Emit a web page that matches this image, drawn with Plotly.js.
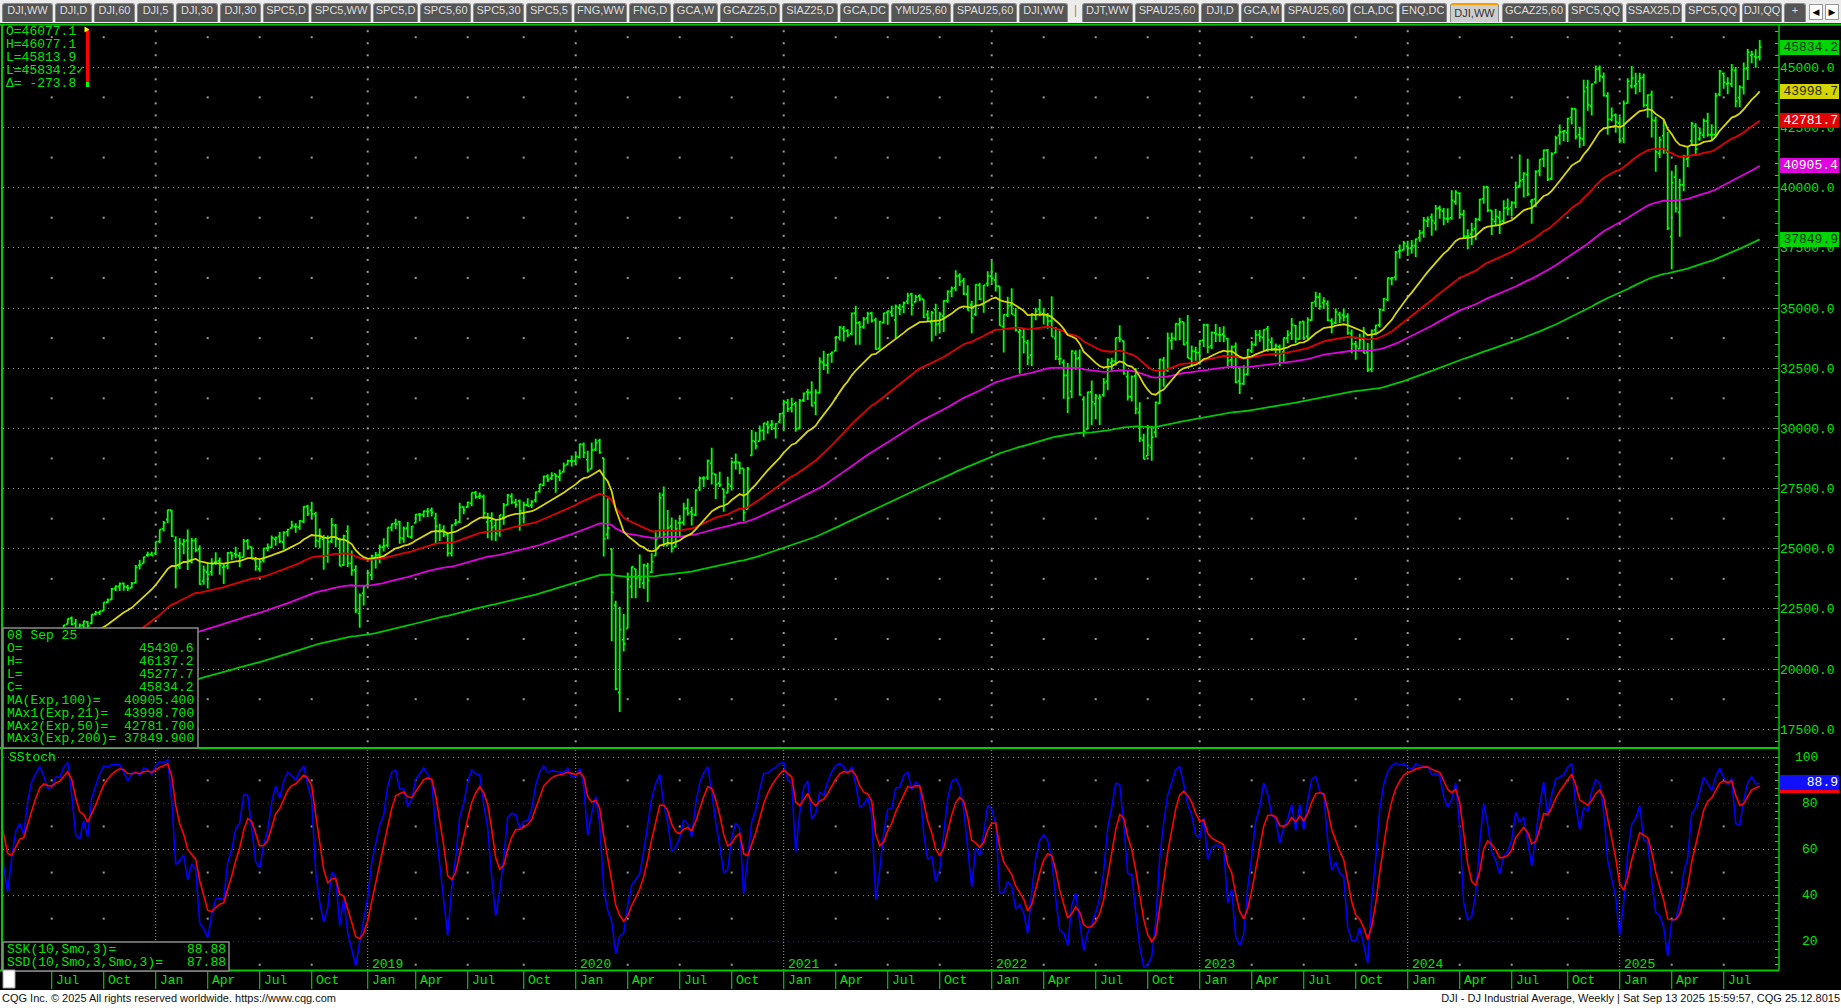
<!DOCTYPE html>
<html>
<head>
<meta charset="utf-8">
<script src="https://cdn.plot.ly/plotly-3.0.1.min.js"></script>
<style>
html,body{margin:0;padding:0;width:1841px;height:1008px;overflow:hidden;background:#000;}
#chart{position:absolute;left:0;top:0;width:1841px;height:1008px;}
#tabbar{position:absolute;left:0;top:0;width:1841px;height:23px;background:#ececec;z-index:5;}
.tab{position:absolute;top:3px;height:19px;line-height:18px;background:#555;color:#dedede;border:1px solid #8a8a8a;border-bottom:none;border-radius:3px 3px 0 0;font:11px "Liberation Sans Narrow","Liberation Sans",Arial,sans-serif;text-align:center;box-sizing:border-box;white-space:nowrap;}
.tab.sel{background:#cdcdcd;color:#333;border-top:2px solid #ff9c00;line-height:16px;}
.sep{position:absolute;top:3px;height:19px;line-height:18px;color:#c08040;font:12px "Liberation Sans",Arial,sans-serif;}
.arr{position:absolute;top:4px;width:14px;height:16px;background:#fff;border:1px solid #999;box-sizing:border-box;font:9px "DejaVu Sans",sans-serif;line-height:14px;text-align:center;color:#000;}
#footer{position:absolute;left:0;top:990px;width:1841px;height:18px;background:#fff;z-index:5;font:11px "Liberation Sans",Arial,sans-serif;color:#111;}
#footer .l{position:absolute;left:2px;top:2px;}
#footer .r{position:absolute;right:1px;top:2px;}
</style>
</head>
<body>
<div id="chart"></div>
<div id="tabbar"></div>
<div id="footer"><span class="l">CQG Inc. © 2025 All rights reserved worldwide. https://www.cqg.com</span><span class="r">DJI - DJ Industrial Average, Weekly | Sat Sep 13 2025 15:59:57, CQG 25.12.8015</span></div>
<script>
// ---------------- DATA (weekly bars, Monday dates, [open, high, low, close]) ----------------
const firstWeek = '2017-01-02';
const bars2017 = [
[19881,19999,19775,19964],[19931,19999,19677,19886],[19886,19949,19732,19827],[19794,20125,19774,20094],[20028,20125,19831,20071],
[20025,20298,19976,20270],[20299,20639,20271,20624],[20625,20851,20586,20822],[20800,21169,20757,21005],
[20987,21002,20777,20902],[20901,21000,20788,20914],[20922,20953,20412,20596],[20540,20756,20413,20663],
[20654,20888,20551,20656],[20656,20703,20453,20453],[20479,20616,20379,20548],[20779,21070,20765,20940],
[20962,21033,20850,21006],[21013,21013,20831,20896],[20911,21000,20554,20804],[20817,21112,20782,21080],[21080,21225,20973,21206],
[21202,21305,21112,21271],[21264,21392,21188,21384],[21405,21536,21293,21394],[21395,21535,21197,21349],
[21392,21480,21279,21414],[21418,21681,21262,21637],[21632,21681,21534,21580],[21574,21830,21521,21830],[21865,22092,21865,22092],
[22119,22180,21810,21858],[21896,22086,21600,21674],[21694,21891,21600,21814],[21822,22013,21701,21988],
[21958,22000,21709,21798],[21905,22275,21868,22268],[22288,22420,22245,22350],[22350,22419,22247,22405],
[22423,22777,22419,22774],[22778,22935,22750,22871],[22891,23368,22870,23329],[23348,23486,23230,23434],[23439,23602,23242,23539],
[23557,23602,23250,23422],[23408,23500,23242,23358],[23371,23618,23360,23558],[23578,24328,23566,24231],
[24305,24534,24140,24329],[24393,24677,24393,24652],[24739,24876,24663,24754],[24770,24872,24708,24719]
];
const bars2018 = [
[24809,25299,24741,25296],[25308,25804,25237,25803],[25829,26153,25711,26072],[26214,26617,26058,26617],[26598,26609,25490,25521],
[25338,25520,23360,24190],[24257,25432,24160,25219],[25191,25411,24774,25310],[25347,25800,24117,24538],
[24461,25449,24385,25336],[25349,25449,24857,24946],[24969,25150,23509,23533],[23658,24307,23509,24103],
[24034,24450,23344,23933],[24041,24608,23873,24360],[24438,24858,24339,24463],[24494,24636,23924,24311],[24222,24353,23531,24263],
[24301,24861,24147,24831],[24843,24860,24524,24715],[24788,25086,24608,24753],[24702,24868,24232,24635],
[24650,25402,24650,25317],[25322,25402,24953,25090],[25064,25089,24560,24581],[24537,24653,24084,24271],
[24161,24539,24043,24456],[24515,25044,24428,25019],[25025,25215,24887,25058],[25060,25552,25018,25451],[25403,25511,25124,25463],
[25511,25692,25233,25313],[25280,25724,24965,25669],[25697,25834,25513,25790],[25853,26167,25838,25965],
[25916,26057,25660,25917],[25887,26197,25787,26155],[26131,26769,26073,26744],[26757,26828,26365,26458],
[26598,26951,26263,26447],[26452,26534,25055,25340],[25309,25841,25017,25444],[25389,25574,24123,24688],[24699,25545,24417,25271],
[25312,26277,25238,25989],[25960,26031,25066,25413],[25395,25459,24268,24286],[24333,25580,24286,25538],
[25718,25980,24242,24389],[24391,24925,23881,24101],[24121,24314,22324,22445],[22317,23139,21713,23062],[23153,23464,22639,23433]
];
const bars2019 = [
[23474,24124,23344,23996],[23910,24751,23700,24706],[24630,24863,24179,24737],[24748,25180,24394,25064],
[25062,25439,24883,25106],[25146,25883,25052,25883],[25880,26052,25726,26031],[26052,26241,25819,26026],
[26122,26156,25208,25450],[25432,25920,25252,25849],[25858,26109,25475,25502],[25478,25949,25410,25929],
[26075,26444,26064,26425],[26429,26486,26143,26412],[26420,26592,26302,26559],[26552,26695,26316,26543],[26607,26709,26340,26505],
[26258,26496,25222,25942],[25733,26036,25325,25764],[25780,25979,25490,25586],[25611,25611,24680,24815],
[24810,26022,24680,25984],[26047,26238,25952,26090],[26113,26907,26065,26719],[26727,26761,26437,26600],
[26734,26966,26712,26922],[26886,27333,26764,27332],[27326,27398,27075,27154],[27171,27336,27068,27192],[27168,27252,26249,26485],
[26118,26500,25440,26287],[26154,26520,25340,25886],[25962,26230,25323,25629],[25742,26405,25495,26403],
[26313,26900,26000,26797],[26821,27277,26821,27219],[27179,27306,26851,26935],[26922,27079,26704,26820],[26990,27046,25743,26573],
[26478,26957,26047,26817],[26818,27100,26753,26770],[26810,27011,26695,26958],[27022,27380,26925,27347],
[27384,27691,27328,27681],[27642,28036,27601,28005],[28019,28090,27770,27876],[27934,28174,27860,28051],
[28109,28109,27325,28015],[27980,28290,27799,28135],[28191,28582,28163,28455],[28491,28701,28491,28645],[28653,28873,28419,28635]
];
const bars2020 = [
[28639,28956,28482,28823],[28798,29374,28750,29348],[29332,29409,28765,28990],[28700,29072,28169,28256],
[28319,29409,28319,29102],[29123,29568,29064,29398],[29490,29568,28942,28992],[28771,28771,24681,25409],
[25591,27102,25391,25865],[24992,24992,21154,23186],[22653,22837,19122,19174],[19028,22595,18214,21637],[21227,22293,20736,21053],
[21693,24009,21693,23719],[23433,24264,22941,24242],[24160,24160,22942,23775],[23857,24764,23361,23724],
[23571,24380,23340,24331],[24281,24423,22790,23685],[24030,24815,23991,24465],[24710,25759,24710,25383],
[25475,27337,25475,27111],[27232,27581,25082,25606],[25128,26611,25128,25871],[25942,26302,24843,25016],[25077,26205,25061,25827],
[26073,26390,25523,26075],[26094,26915,25961,26672],[26690,27088,26376,26470],[26533,26742,25964,26428],
[26407,27465,26347,27433],[27538,28000,27400,27931],[27932,28015,27568,27930],[27965,28703,27856,28654],[28544,29199,27664,28133],
[28100,28115,27062,27666],[27729,28195,27561,27657],[27484,27484,26537,27174],[27320,27990,27320,27683],
[27605,28675,27420,28587],[28595,28958,28296,28606],[28586,28609,28097,28336],[28335,28335,26143,26502],
[26636,28393,26636,28323],[28879,29933,28868,29480],[29450,29858,29128,29263],[29467,30117,29467,29910],[29918,30219,29502,30218],
[30179,30319,29776,30046],[30130,30343,29926,30179],[30011,30217,29577,30200],[30283,30637,30211,30606]
];
const bars2021 = [
[30628,31193,29881,31098],[31070,31223,30683,30814],[30852,31272,30660,30997],[31020,31112,29856,29983],
[30005,31223,29977,31148],[31175,31495,31098,31458],[31515,31644,31175,31494],[31494,31963,30905,30932],
[31065,31628,30548,31496],[31476,32960,31460,32779],[32738,33227,32430,32628],[32624,33098,32269,33072],[33096,33189,32728,33153],
[33223,33830,33200,33801],[33768,34256,33647,34200],[34140,34256,33611,34043],[34063,34117,33786,33875],
[33940,34811,33870,34778],[34782,35091,33474,34382],[34388,34453,33474,34208],[34229,34631,34138,34529],[34584,34849,34346,34756],
[34786,34849,34399,34480],[34511,34597,33271,33290],[33318,34466,33271,34434],[34395,34800,34360,34786],
[34817,34893,34308,34870],[34826,35092,34636,34688],[34509,35144,33741,35062],[35028,35171,34705,34935],
[35057,35266,34782,35209],[35279,35632,35160,35515],[35575,35631,34690,35120],[35253,35552,35226,35455],[35499,35576,35278,35369],
[35364,35364,34585,34608],[34737,34907,34427,34584],[34400,34886,33613,34798],[34932,35176,33843,34326],
[34342,34849,33937,34746],[34664,35319,34002,35295],[35295,35741,35223,35677],[35690,35892,35443,35820],
[35834,36565,35699,36328],[36340,36443,35916,36100],[36124,36256,35543,35602],[35580,35946,34899,34899],[35135,35306,33952,34580],
[34748,35985,34670,35971],[35950,36048,35332,35365],[35146,35961,34800,35951],[36018,36527,35893,36338]
];
const bars2022 = [
[36321,36952,36048,36231],[36173,36471,35689,35912],[35907,35907,34265,34265],[34231,34731,33150,34725],[34716,35467,34631,35089],
[35119,35825,34738,34738],[34692,34997,34029,34079],[34004,34137,32273,34059],[33793,34154,33113,33614],
[33566,33677,32633,32944],[33046,34794,32578,34755],[34709,35016,34496,34861],[34950,35372,34655,34818],
[34751,35012,34317,34721],[34655,34791,34140,34451],[34466,35492,33806,33811],[33736,34209,32839,32977],
[32879,34118,32646,32899],[32743,32860,31232,32197],[32205,32720,30636,31262],[31537,33242,31256,33213],[33128,33250,32434,32900],
[32923,33275,31352,31393],[31209,31333,29653,29888],[29972,31525,29970,31500],[31513,31992,30143,31097],
[31022,31437,30376,31338],[31246,31420,30144,31288],[31394,32094,31319,31899],[31949,32910,31584,32845],
[32713,32936,32396,32803],[32783,33780,32617,33761],[33773,34281,33575,33707],[33637,33637,32231,32283],[32154,32408,31160,31318],
[31318,32198,31114,32152],[32185,32504,30585,30822],[30664,31088,29439,29590],[29512,29773,28715,28726],
[28855,30145,28855,29297],[29213,30111,28660,29635],[29843,31113,29623,31083],[31042,32889,31013,32862],[32836,32964,31727,32403],
[32414,33979,32357,33748],[33648,33987,33271,33746],[33736,34364,33636,34347],[34331,34595,33663,34430],
[34422,34422,33457,33477],[33563,34712,32920,32920],[32889,33445,32573,33204],[33202,33387,32812,33147]
];
const bars2023 = [
[33148,33660,32650,33631],[33664,34343,33384,34303],[34288,34342,33132,33375],[33429,34021,33297,33978],[33969,34335,33587,33926],
[33883,34215,33584,33869],[33911,34245,33573,33827],[33729,33766,32580,32817],[32843,33447,32500,33391],
[33404,33572,31872,31910],[31959,32545,31429,31862],[31856,32619,31805,32238],[32253,33293,32199,33274],
[33217,33629,33131,33485],[33488,34082,33408,33887],[33898,34082,33600,33809],[33766,34116,33235,34098],
[34131,34257,33184,33675],[33581,33784,33219,33301],[33295,33530,32982,33427],[33391,33487,32586,33093],[33162,33778,32740,33763],
[33750,34080,33532,33877],[33958,34589,33675,34300],[34271,34290,33539,33727],[33705,34448,33681,34408],
[34440,34465,33671,33735],[33816,34621,33693,34509],[34499,35246,34466,35228],[35269,35679,35045,35459],[35455,35631,34931,35066],
[35221,35444,34960,35281],[35168,35313,34452,34501],[34469,34575,33948,34347],[34389,34979,34341,34838],
[34737,34845,34374,34577],[34699,34978,34437,34618],[34656,34779,33893,33964],[33941,34104,33123,33508],
[33507,33639,32847,33407],[33302,33929,33302,33670],[33708,34216,33118,33127],[33171,33555,32346,32418],[32464,34109,32327,34061],
[34092,34309,33868,34283],[34295,34977,34186,34947],[34911,35420,34877,35390],[35347,36270,35294,36246],
[36218,36290,35948,36248],[36280,37370,36139,37306],[37359,37641,37056,37386],[37413,37779,37394,37690]
];
const bars2024 = [
[37566,37791,37162,37466],[37492,37823,37268,37593],[37590,37890,37123,37863],[37924,38255,37757,38109],[38140,38783,37923,38654],
[38606,38797,38363,38671],[38770,38927,38000,38628],[38526,39282,38220,39131],[39155,39256,38708,39087],
[39025,39152,38440,38723],[38709,39140,38542,38715],[38745,39889,38670,39475],[39414,39889,39290,39807],
[39766,39806,38773,38904],[38893,39081,37894,37983],[37983,38277,37446,37986],[38072,38543,37611,38240],[38296,38751,37815,38676],
[38693,39537,38615,39513],[39536,40077,39335,40004],[40027,40052,38978,39070],[39060,39060,38036,38686],
[38600,39120,38400,38799],[38752,39036,38073,38589],[38617,39478,38536,39150],[39171,39553,38840,39119],
[39169,39432,38817,39376],[39378,40257,39149,40001],[40059,41376,40000,40288],[40332,40640,39596,40589],[40542,41198,39640,39737],
[39424,39532,38499,39498],[39521,40718,39185,40660],[40696,41175,40477,41175],[41193,41585,40859,41563],
[41559,41606,40278,40345],[40370,41469,40322,41394],[41444,42160,41430,42063],[42166,42628,41781,42313],[42325,42380,41929,42353],
[42289,42899,41895,42864],[42920,43325,42625,43276],[43273,43277,41996,42114],[42207,42530,41659,42052],
[42026,44487,41734,43989],[44165,44487,43199,43445],[43385,44323,42998,44297],[44380,45071,44318,44911],
[44925,45074,44397,44643],[44596,44781,43792,43828],[43808,43966,42201,42840],[42833,43325,42746,42992],[43011,43084,42283,42732]
];
const bars2025 = [
[42683,42955,41845,41938],[42051,43617,41844,43488],[43514,44545,43501,44424],[44234,45054,44120,44545],
[44224,44777,43879,44303],[44417,44771,43966,44546],[44580,44745,43330,43428],[43432,43881,42903,43841],
[43864,44033,42083,42802],[42783,42961,40661,41488],[41422,42125,41230,41985],[42165,42821,41407,41583],[41471,42316,38245,38315],
[37966,40700,36612,40212],[40440,40938,38967,39142],[38970,40365,37962,40114],[40119,41372,39846,41317],
[41191,41701,40860,41249],[41949,42725,41812,42655],[42566,42676,41333,41603],[42025,42495,41948,42270],
[42181,42870,42055,42763],[42760,43113,42119,42198],[42197,42633,41962,42207],[42200,43946,42125,43819],[43885,44884,43793,44829],
[44741,44781,44108,44372],[44315,44590,43879,44342],[44315,45133,44171,44902],[44870,45011,43340,43589],
[43740,44250,43341,44176],[44158,45203,43872,44946],[44967,45757,44472,45632],[45497,45685,45164,45545],
[45444,45754,44986,45401],[45430.6,46137.2,45277.7,45834.2]
];
// EMA starting values (value before the first bar)
const emaSeeds = {e21: 19100, e50: 18000, e100: 17700, e200: 16800};
// texts shown in the chart
const priceTicks = [17500,20000,22500,25000,27500,30000,32500,35000,37500,40000,42500,45000];
const stochTicks = [20,40,60,80,100];
const maLabels = ['MA(Exp,100)=','MAx1(Exp,21)=','MAx2(Exp,50)=','MAx3(Exp,200)='];
const maValues = [40905.4, 43998.7, 42781.7, 37849.9];
const cursorLines = ['O=46077.1','H=46077.1','L=45813.9','L=45834.2\u2713','\u0394= -273.8'];
const barDateLabel = '08 Sep 25';
const sskValues = [88.88, 87.88];
const monthNames = ['Jan','Feb','Mar','Apr','May','Jun','Jul','Aug','Sep','Oct','Nov','Dec'];

// ---------------- build series ----------------
const bars = [].concat(bars2017,bars2018,bars2019,bars2020,bars2021,bars2022,bars2023,bars2024,bars2025);
const DAY = 86400000, WEEK = 7*DAY;
const t0 = Date.parse(firstWeek+'T00:00:00Z');
function iso(ms){ return new Date(ms).toISOString().slice(0,10); }
function isoFull(ms){ return new Date(ms).toISOString().replace('T',' ').slice(0,19); }
const dates = bars.map((b,i)=>iso(t0 + i*WEEK));
const opens = bars.map(b=>b[0]), highs = bars.map(b=>b[1]), lows = bars.map(b=>b[2]), closes = bars.map(b=>b[3]);

function ema(vals, n, seed){ const k = 2/(n+1); let e = seed; return vals.map(v => (e = e + k*(v-e))); }
const ema21 = ema(closes,21,emaSeeds.e21), ema50 = ema(closes,50,emaSeeds.e50),
      ema100 = ema(closes,100,emaSeeds.e100), ema200 = ema(closes,200,emaSeeds.e200);

function rawK(h,l,c,n){ return c.map((v,i)=>{ let hh=-Infinity, ll=Infinity;
  for(let j=Math.max(0,i-n+1); j<=i; j++){ hh=Math.max(hh,h[j]); ll=Math.min(ll,l[j]); }
  return hh>ll ? (v-ll)/(hh-ll)*100 : 50; }); }
function expAvg(a,n){ const k=2/(n+1); let s=a[0]; return a.map((v,i)=> i===0 ? s : (s = s + k*(v-s))); }
function smoAvg(a,n){ let s=a[0]; return a.map((v,i)=> i===0 ? s : (s = (s*(n-1) + v)/n)); }
const kFast = rawK(highs,lows,closes,10);
const ssk = expAvg(kFast,3);
const ssd = smoAvg(ssk,3);

// ---------------- geometry (pixels) ----------------
const L = 3, R = 1779, T = 26, B = 970;
function px(x){ return (x-L)/(R-L); }
function py(y){ return (B-y)/(B-T); }
const refMonday = Date.parse('2018-01-01T00:00:00Z'), refPix = 155.7, pxPerWeek = 4;
const xr0 = isoFull(refMonday + (L-refPix)/pxPerWeek*WEEK);
const xr1 = isoFull(refMonday + (R-refPix)/pxPerWeek*WEEK);
function dateToPix(d){ return refPix + (Date.parse(d+'T00:00:00Z')-refMonday)/WEEK*pxPerWeek; }

const MONO = 'Liberation Mono, DejaVu Sans Mono, monospace';
const TXT = '#00e600';
const BAR = '#00ff00';

// tick dates: first bar of Jan/Apr/Jul/Oct
const qTicks = [];
for(let i=1;i<dates.length;i++){
  const m = +dates[i].slice(5,7)-1, pm = +dates[i-1].slice(5,7)-1;
  if(m!==pm && m%3===0){ const p = dateToPix(dates[i]); if(p>L+2 && p<R) qTicks.push({d:dates[i], m, y:+dates[i].slice(0,4), p}); }
}

// ---------------- traces ----------------
const traces = [];
const gx=[], gy=[], sx=[], sy=[];
qTicks.forEach(t=>{
  if(t.m===0){ for(let v=17000; v<=46500; v+=500){ gx.push(t.d); gy.push(v);} }
  else { for(let v=18750; v<=46500; v+=2500){ gx.push(t.d); gy.push(v);} for(let v=10; v<100; v+=20){ sx.push(t.d); sy.push(v);} }
});
traces.push({type:'scatter', mode:'markers', x:gx, y:gy, xaxis:'x', yaxis:'y', marker:{size:2, color:'#9a9a9a', symbol:'square'}, hoverinfo:'skip'});
traces.push({type:'scatter', mode:'markers', x:sx, y:sy, xaxis:'x', yaxis:'y2', marker:{size:2, color:'#9a9a9a', symbol:'square'}, hoverinfo:'skip'});

traces.push({type:'scatter', mode:'lines', x:dates, y:ema200, line:{color:'#00c800', width:1.8}, xaxis:'x', yaxis:'y'});
traces.push({type:'scatter', mode:'lines', x:dates, y:ema100, line:{color:'#e000e0', width:1.8}, xaxis:'x', yaxis:'y'});
traces.push({type:'scatter', mode:'lines', x:dates, y:ema50, line:{color:'#e00000', width:1.8}, xaxis:'x', yaxis:'y'});
traces.push({type:'scatter', mode:'lines', x:dates, y:ema21, line:{color:'#d8d800', width:1.8}, xaxis:'x', yaxis:'y'});
traces.push({type:'ohlc', x:dates, open:opens, high:highs, low:lows, close:closes, xaxis:'x', yaxis:'y',
  tickwidth:0.45, increasing:{line:{color:BAR, width:1.8}}, decreasing:{line:{color:BAR, width:1.8}}, hoverinfo:'skip'});
traces.push({type:'scatter', mode:'lines', x:dates, y:ssk, line:{color:'#0000ff', width:1.6}, xaxis:'x', yaxis:'y2'});
traces.push({type:'scatter', mode:'lines', x:dates, y:ssd, line:{color:'#ff0000', width:1.6}, xaxis:'x', yaxis:'y2'});

// ---------------- shapes ----------------
const shapes = [];
function pline(x0,y0,x1,y1,color,width,dash,layer){ return {type:'line', xref:'paper', yref:'paper', x0:px(x0), y0:py(y0), x1:px(x1), y1:py(y1), line:{color, width, dash:dash||'solid'}, layer:layer||'above'}; }
function prect(x0,y0,x1,y1,fill,lcolor,lw){ return {type:'rect', xref:'paper', yref:'paper', x0:px(x0), y0:py(y0), x1:px(x1), y1:py(y1), fillcolor:fill, line:{color:lcolor||fill, width:lw||0}, layer:'above'}; }
[[100,'#9a9a9a'],[80,'#c00000'],[60,'#9a9a9a'],[40,'#9a9a9a'],[20,'#2020d0']].forEach(([v,c])=>{
  shapes.push({type:'line', xref:'paper', yref:'y2', x0:0, x1:1, y0:v, y1:v, line:{color:c, width:1, dash:'1px,4px'}, layer:'below'});
});
qTicks.filter(t=>t.m===0).forEach(t=>{
  shapes.push({type:'line', xref:'x', yref:'paper', x0:t.d, x1:t.d, y0:0, y1:py(749), line:{color:'#9a9a9a', width:1, dash:'1px,2px'}, layer:'below'});
});
qTicks.forEach(t=>{
  shapes.push({type:'line', xref:'x', yref:'paper', x0:t.d, x1:t.d, y0:py(970), y1:py(989), line:{color:'#00c800', width:1.2}, layer:'above'});
});
shapes.push(pline(0,24.5,1841,24.5,'#00c800',2));
shapes.push(pline(2,24,2,970,'#00c800',2));
shapes.push(pline(0,748,R,748,'#00d000',2));
shapes.push(pline(R,24,R,970,'#00c800',1.5));
shapes.push(pline(0,970.5,R,970.5,'#00c800',2));
shapes.push(prect(3,628,198,748,'#000','#8c8c8c',1.5));
shapes.push(prect(3,942,229,971,'#000','#8c8c8c',1.5));
shapes.push(prect(3,970,15,988,'#ffffff','#9a9a9a',1));
shapes.push(prect(86,29,89,82,'#ff0000'));
shapes.push(prect(86,82,89,87,'#00ff00'));
shapes.push({type:'path', xref:'paper', yref:'paper', path:`M ${px(84.5)} ${py(26.5)} L ${px(89.5)} ${py(29.5)} L ${px(84.5)} ${py(32.5)} Z`, fillcolor:'#ffff00', line:{color:'#ffff00', width:0}, layer:'above'});

// ---------------- annotations ----------------
const ann = [];
function A(x,y,text,o){ ann.push(Object.assign({xref:'paper', yref:'paper', x:px(x), y:py(y), text, showarrow:false, xanchor:'left', yanchor:'middle', font:{family:MONO, size:13, color:TXT}}, o||{})); }
cursorLines.forEach((s,i)=>A(4, 31.7+i*12.9, s));
const lastBar = bars[bars.length-1];
const legRows = [[barDateLabel,''],['O=',lastBar[0].toFixed(1)],['H=',lastBar[1].toFixed(1)],['L=',lastBar[2].toFixed(1)],['C=',lastBar[3].toFixed(1)]]
  .concat(maLabels.map((l,i)=>[l, maValues[i].toFixed(3)]));
legRows.forEach((r,i)=>{ const y = 635.7 + i*12.9; A(5,y,r[0]); if(r[1]) A(196,y,r[1],{xanchor:'right'}); });
A(7,758,'SStoch');
A(5,949.5,'SSK(10,Smo,3)='); A(228,949.5,sskValues[0].toFixed(2),{xanchor:'right'});
A(5,962.5,'SSD(10,Smo,3,Smo,3)='); A(228,962.5,sskValues[1].toFixed(2),{xanchor:'right'});
qTicks.forEach(t=>{
  A(0,980,monthNames[t.m],{xref:'x', x:t.d, xshift:2});
  if(t.m===0 && t.p>240) A(0,964,String(t.y),{xref:'x', x:t.d, xshift:2});
});
stochTicks.forEach(v=>ann.push({xref:'paper', yref:'y2', x:px(1820), y:v, text:String(v), showarrow:false, xanchor:'right', yanchor:'middle', font:{family:MONO, size:13, color:TXT}}));
function box(yref,val,txt,bg,fg){ ann.push({xref:'paper', yref, x:px(1780), y:val, text:txt, showarrow:false, xanchor:'left', yanchor:'middle',
  bgcolor:bg, bordercolor:bg, borderwidth:1, borderpad:0, width:57, height:13, align:'right', font:{family:MONO, size:13, color:fg}}); }
box('y', lastBar[3], lastBar[3].toFixed(1), '#00d400', '#003a00');
box('y', maValues[1], maValues[1].toFixed(1), '#d4d400', '#2a2a00');
box('y', maValues[2], maValues[2].toFixed(1), '#e00000', '#ffffff');
box('y', maValues[0], maValues[0].toFixed(1), '#e000e0', '#ffffff');
box('y', maValues[3], maValues[3].toFixed(1), '#00d400', '#003a00');
box('y2', sskValues[1], '', '#ff0000', '#ffffff');
box('y2', sskValues[0], sskValues[0].toFixed(1), '#1010ff', '#ffffff');

// ---------------- layout ----------------
const layout = {
  width:1841, height:1008,
  margin:{l:L, r:1841-R, t:T, b:1008-B, pad:0},
  paper_bgcolor:'#000', plot_bgcolor:'#000',
  showlegend:false, hovermode:false, dragmode:false,
  xaxis:{type:'date', range:[xr0,xr1], anchor:'y2', showgrid:false, zeroline:false, showticklabels:false, ticks:'', showline:false, rangeslider:{visible:false}, fixedrange:true},
  yaxis:{domain:[0.2352,1], range:[16723.5,46715.6], side:'right', anchor:'x', tickmode:'array', tickvals:priceTicks, ticktext:priceTicks.map(v=>v.toFixed(1)),
    tickfont:{family:MONO, size:13, color:TXT}, ticks:'inside', ticklen:6, tickcolor:'#8a8a8a', tickwidth:1,
    minor:{tickmode:'linear', tick0:0, dtick:500, ticks:'inside', ticklen:4, tickcolor:'#8a8a8a', showgrid:false},
    showgrid:true, gridcolor:'#9a9a9a', gridwidth:1, griddash:'1px,4px', zeroline:false, showline:false, fixedrange:true},
  yaxis2:{domain:[0,0.2341], range:[7.72,103.6], side:'right', anchor:'x', showticklabels:false, showgrid:false, zeroline:false,
    tickmode:'linear', tick0:0, dtick:10/3, ticks:'inside', ticklen:4, tickcolor:'#8a8a8a', showline:false, fixedrange:true},
  shapes, annotations:ann
};
Plotly.newPlot('chart', traces, layout, {staticPlot:true, displayModeBar:false});

// ---------------- tab bar ----------------
const tabs = [['DJI,WW',2,51],['DJI,D',55,37],['DJI,60',94,41],['DJI,5',137,37],['DJI,30',176,42],['DJI,30',220,41],['SPC5,D',263,46],
 ['SPC5,WW',311,60],['SPC5,D',373,45],['SPC5,60',420,51],['SPC5,30',473,51],['SPC5,5',526,46],['FNG,WW',574,53],['FNG,D',629,42],
 ['GCA,W',673,45],['GCAZ25,D',720,60],['SIAZ25,D',782,56],['GCA,DC',840,49],['YMU25,60',891,60],['SPAU25,60',953,64],['DJI,WW',1019,49],
 ['DJT,WW',1082,51],['SPAU25,60',1135,64],['DJI,D',1201,38],['GCA,M',1241,41],['SPAU25,60',1284,64],['CLA,DC',1350,47],['ENQ,DC',1399,48],
 ['DJI,WW',1450,49,1],['GCAZ25,60',1502,64],['SPC5,QQ',1568,55],['SSAX25,D',1626,56],['SPC5,QQ',1685,55],['DJI,QQ',1742,40],['+',1784,22]];
const tb = document.getElementById('tabbar');
tabs.forEach(t=>{ const d=document.createElement('div'); d.className='tab'+(t[3]?' sel':''); d.style.left=t[1]+'px'; d.style.width=t[2]+'px'; d.textContent=t[0]; tb.appendChild(d); });
const sp=document.createElement('div'); sp.className='sep'; sp.style.left='1074px'; sp.textContent='|'; tb.appendChild(sp);
[['\u25C0',1809],['\u25B6',1825]].forEach(a=>{ const d=document.createElement('div'); d.className='arr'; d.style.left=a[1]+'px'; d.textContent=a[0]; tb.appendChild(d); });
</script>
</body>
</html>
